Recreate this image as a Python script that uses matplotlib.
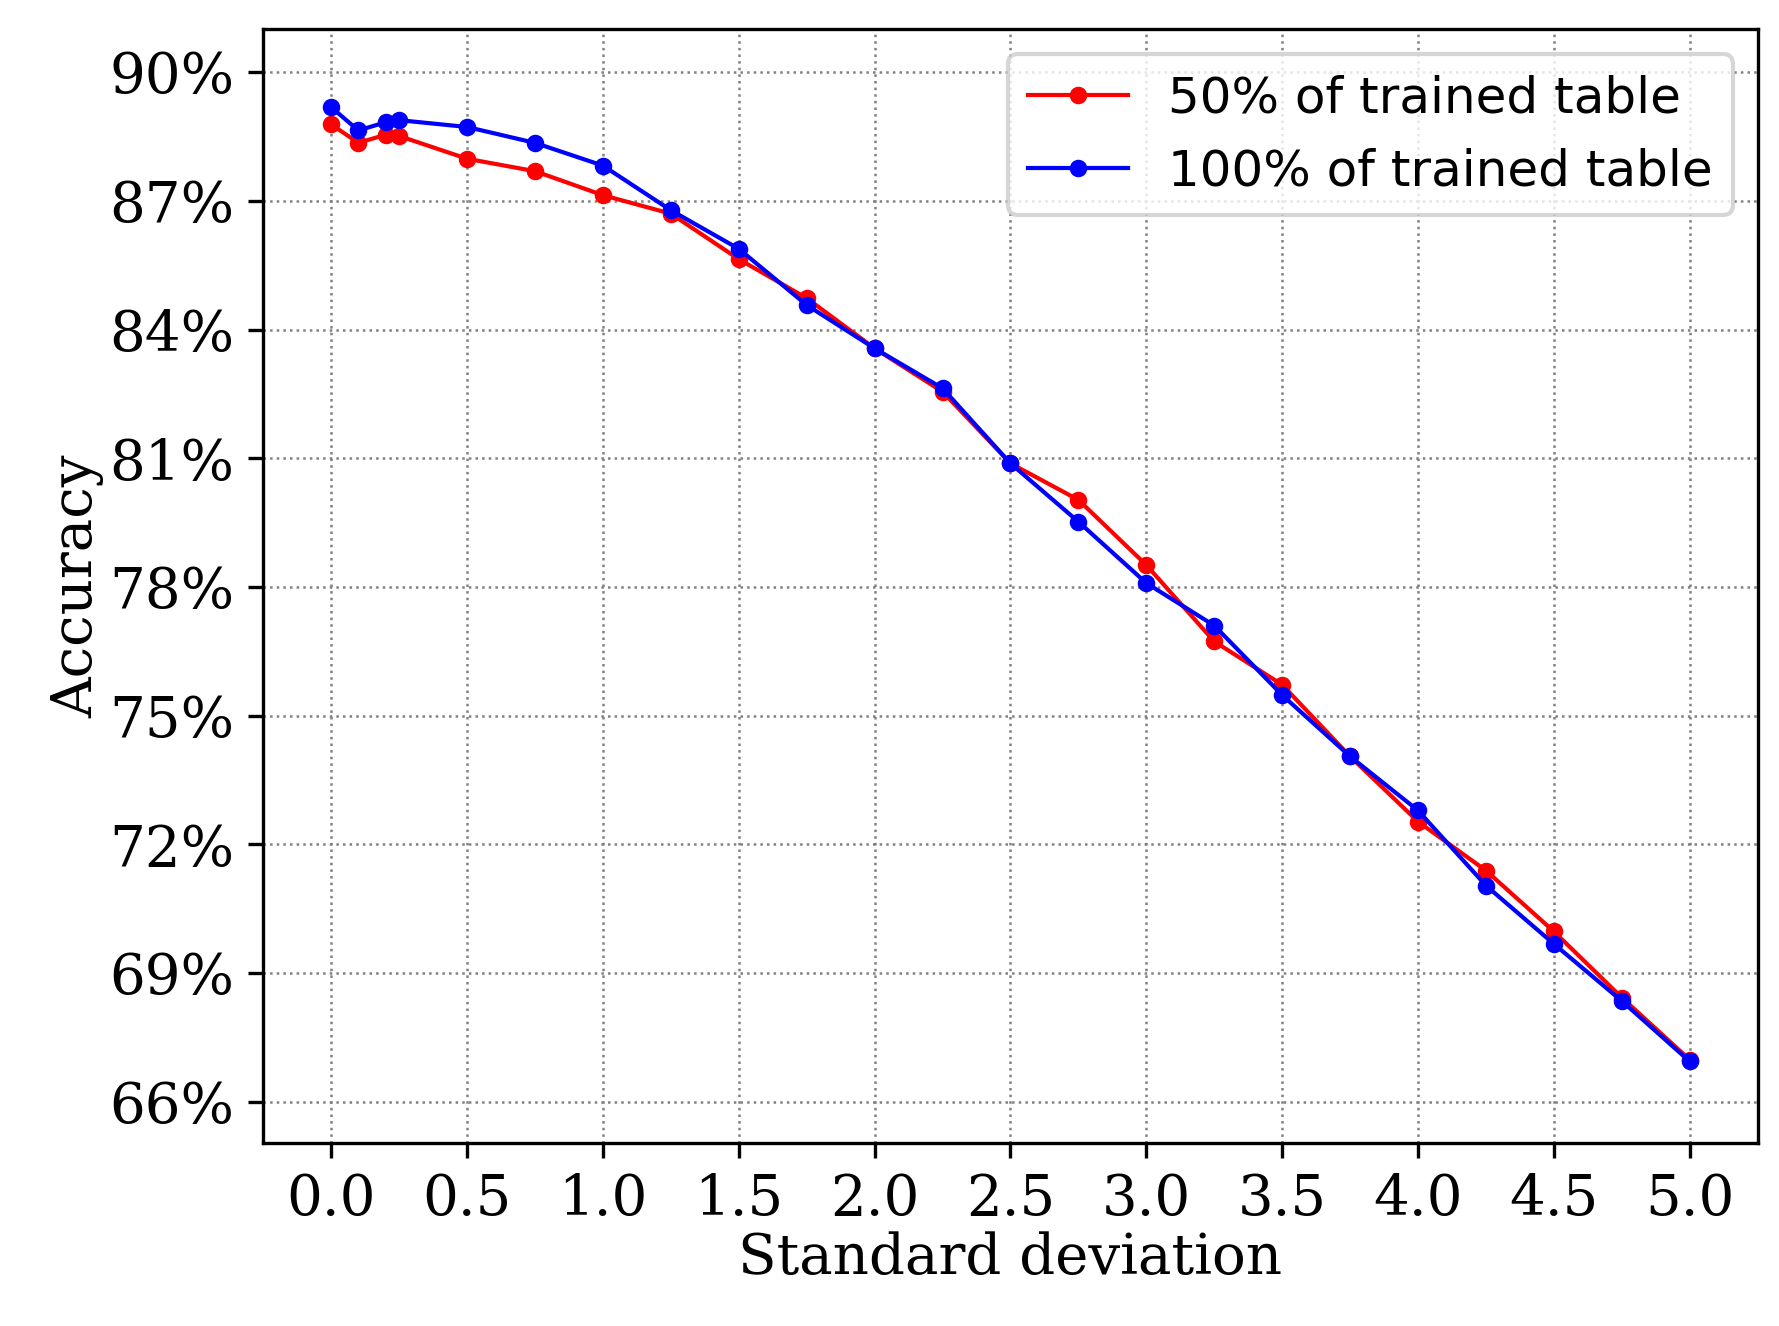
import matplotlib
matplotlib.use("Agg")
import matplotlib.pyplot as plt
from matplotlib.ticker import FuncFormatter

x = [0, 0.1, 0.2, 0.25, 0.5, 0.75, 1.0, 1.25, 1.5, 1.75, 2.0, 2.25, 2.5, 2.75, 3.0,
     3.25, 3.5, 3.75, 4.0, 4.25, 4.5, 4.75, 5.0]
red = [88.78, 88.35, 88.54, 88.51, 87.98, 87.69, 87.13, 86.70, 85.64, 84.73, 83.56, 82.55,
       80.88, 80.03, 78.51, 76.73, 75.72, 74.05, 72.53, 71.39, 69.97, 68.43, 66.98]
blue = [89.18, 88.64, 88.83, 88.88, 88.72, 88.35, 87.82, 86.78, 85.88, 84.57, 83.56, 82.63,
        80.88, 79.52, 78.09, 77.10, 75.48, 74.05, 72.79, 71.04, 69.68, 68.35, 66.94]
yticks = [66, 69, 72, 75, 78, 81, 84, 87, 90]
xticks = [0.0, 0.5, 1.0, 1.5, 2.0, 2.5, 3.0, 3.5, 4.0, 4.5, 5.0]

fig = plt.figure(figsize=(1779/300, 1326/300), dpi=300)
ax = fig.add_axes([0.148, 0.138, 0.840, 0.840])
ax.plot(x, red, '-o', color='red', lw=1.0, ms=3.2, label='50% of trained table')
ax.plot(x, blue, '-o', color='blue', lw=1.0, ms=3.2, label='100% of trained table')
ax.set_xlim(-0.25, 5.25)
ax.set_ylim(65.04, 91.0)
ax.set_yticks(yticks)
ax.set_xticks(xticks)
ax.yaxis.set_major_formatter(FuncFormatter(lambda v, p: f"{v:.0f}%"))
ax.xaxis.set_major_formatter(FuncFormatter(lambda v, p: f"{v:.1f}"))
ax.grid(True, linestyle=':', color='gray', lw=0.6)
for lab in ax.get_xticklabels() + ax.get_yticklabels():
    lab.set_family('DejaVu Serif')
    lab.set_fontsize(13.5)
ax.set_xlabel('Standard deviation', family='DejaVu Serif', fontsize=13.5, labelpad=1)
ax.set_ylabel('Accuracy', family='DejaVu Serif', fontsize=13.5, labelpad=1)
ax.legend(loc='upper right', fontsize=12)
fig.savefig('out.png', dpi=300)
